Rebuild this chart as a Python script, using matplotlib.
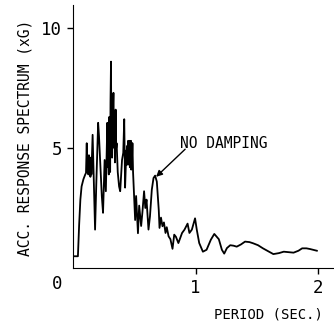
import matplotlib
matplotlib.use('Agg')
import matplotlib.pyplot as plt

# acceleration response spectrum
period = [0.0, 0.04, 0.05, 0.06, 0.07, 0.085, 0.1, 0.106, 0.112, 0.116, 0.12, 0.125,
          0.13, 0.134, 0.138, 0.142, 0.145, 0.15, 0.16, 0.17, 0.18, 0.19, 0.205,
          0.212, 0.22, 0.235, 0.245, 0.258, 0.268, 0.28, 0.284, 0.287, 0.292, 0.297,
          0.3, 0.303, 0.306, 0.31, 0.313, 0.316, 0.319, 0.322, 0.325, 0.328, 0.33,
          0.333, 0.336, 0.339, 0.342, 0.345, 0.348, 0.352, 0.356, 0.365, 0.376,
          0.385, 0.4, 0.41, 0.418, 0.425, 0.435, 0.44, 0.444, 0.447, 0.45, 0.452,
          0.455, 0.458, 0.461, 0.464, 0.467, 0.47, 0.473, 0.475, 0.478, 0.48, 0.485,
          0.49, 0.5, 0.507, 0.515, 0.53, 0.54, 0.556, 0.566, 0.58, 0.59, 0.6, 0.616,
          0.628, 0.643, 0.657, 0.67, 0.684, 0.7, 0.706, 0.718, 0.73, 0.742, 0.755,
          0.765, 0.78, 0.795, 0.812, 0.826, 0.84, 0.86, 0.89, 0.91, 0.935, 0.95,
          0.97, 0.996, 1.01, 1.03, 1.06, 1.09, 1.125, 1.153, 1.19, 1.215, 1.234,
          1.256, 1.283, 1.31, 1.336, 1.37, 1.404, 1.44, 1.47, 1.51, 1.55, 1.6,
          1.635, 1.68, 1.72, 1.76, 1.8, 1.84, 1.87, 1.905, 1.935, 1.99]
acc = [0.49, 0.49, 1.8, 2.85, 3.4, 3.7, 3.9, 3.96, 5.2, 4.0, 4.6, 3.9,
       4.7, 4.0, 4.4, 3.8, 4.6, 3.9, 5.55, 3.5, 1.6, 3.5, 6.05,
       5.5, 4.6, 3.0, 2.3, 4.5, 3.2, 6.05, 4.2, 5.2, 3.9, 6.3,
       4.6, 4.0, 6.9, 8.6, 5.2, 6.2, 4.6, 6.8, 5.4, 6.9, 7.3,
       5.6, 5.0, 6.2, 4.4, 5.5, 6.6, 5.0, 5.2, 4.0, 3.4,
       3.2, 4.5, 4.8, 6.2, 3.35, 4.9, 4.3, 5.1, 4.4, 5.3, 4.5,
       5.2, 4.3, 5.3, 4.2, 5.1, 4.4, 5.3, 4.1, 5.2, 4.3, 5.2,
       4.0, 2.85, 2.0, 3.0, 1.45, 2.6, 1.75, 2.3, 3.2, 2.5, 2.85, 1.6,
       2.15, 3.26, 3.75, 3.85, 3.6, 2.4, 1.67, 2.1, 1.74, 1.9, 1.46,
       1.7, 1.32, 1.2, 0.8, 1.39, 1.3, 1.04, 1.46, 1.6, 1.85, 1.46,
       1.6, 2.07, 1.6, 1.04, 0.68, 0.76, 1.18, 1.42, 1.2, 0.76, 0.6,
       0.83, 0.95, 0.93, 0.89, 0.98, 1.1, 1.08, 1.03, 0.95, 0.82, 0.68,
       0.58, 0.62, 0.68, 0.66, 0.64, 0.72, 0.82, 0.82, 0.79, 0.72]

font = ['DejaVu Sans Mono']

fig = plt.figure(figsize=(3.34, 3.24), dpi=100)
ax = fig.add_axes([0.2186, 0.1728, 0.7814, 0.8118])
ax.plot(period, acc, color='black', lw=1.3)

ax.set_xlim(0, 2.13)
ax.set_ylim(0, 10.96)
ax.spines['top'].set_visible(False)
ax.spines['right'].set_visible(False)
ax.set_xticks([1, 2])
ax.set_yticks([5, 10])
ax.tick_params(axis='both', direction='out', length=4, width=1, labelsize=12.5, pad=4)
for lab in ax.get_xticklabels() + ax.get_yticklabels():
    lab.set_family(font)
ax.text(-0.13, -0.68, '0', fontsize=12.5, family=font, ha='center', va='center')

fig.text(0.075, 0.574, 'ACC. RESPONSE SPECTRUM (xG)', rotation=90, fontsize=10.5,
         family=font, ha='center', va='center')
fig.text(0.805, 0.028, 'PERIOD (SEC.)', fontsize=10, family=font,
         ha='center', va='center')

ax.text(0.87, 5.2, 'NO DAMPING', fontsize=10.5, family=font, ha='left', va='center')
ax.annotate('', xy=(0.678, 3.8), xytext=(0.915, 4.95),
            arrowprops=dict(arrowstyle='-|>', color='black', lw=1,
                            mutation_scale=9, shrinkA=0, shrinkB=0))

fig.savefig('out.png', dpi=100)
